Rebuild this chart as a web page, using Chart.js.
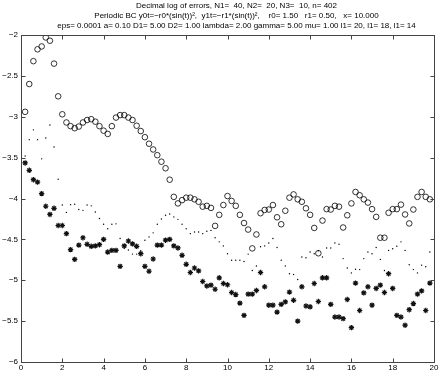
<!DOCTYPE html>
<html>
<head>
<meta charset="utf-8">
<script src="https://cdn.jsdelivr.net/npm/chart.js@4.4.1/dist/chart.umd.min.js"></script>
<style>
  html, body { margin: 0; padding: 0; background: #fff; }
</style>
</head>
<body>
<canvas id="errors" width="443" height="374"></canvas>
<script>
const xs = [
  0.2, 0.4, 0.6, 0.8, 1.0, 1.2, 1.4, 1.6, 1.8, 2.0,
  2.2, 2.4, 2.6, 2.8, 3.0, 3.2, 3.4, 3.6, 3.8, 4.0,
  4.2, 4.4, 4.6, 4.8, 5.0, 5.2, 5.4, 5.6, 5.8, 6.0,
  6.2, 6.4, 6.6, 6.8, 7.0, 7.2, 7.4, 7.6, 7.8, 8.0,
  8.2, 8.4, 8.6, 8.8, 9.0, 9.2, 9.4, 9.6, 9.8, 10.0,
  10.2, 10.4, 10.6, 10.8, 11.0, 11.2, 11.4, 11.6, 11.8, 12.0,
  12.2, 12.4, 12.6, 12.8, 13.0, 13.2, 13.4, 13.6, 13.8, 14.0,
  14.2, 14.4, 14.6, 14.8, 15.0, 15.2, 15.4, 15.6, 15.8, 16.0,
  16.2, 16.4, 16.6, 16.8, 17.0, 17.2, 17.4, 17.6, 17.8, 18.0,
  18.2, 18.4, 18.6, 18.8, 19.0, 19.2, 19.4, 19.6, 19.8
];

// circles
const errCircle = [
  -2.94, -2.60, -2.32, -2.175, -2.14, -2.03, -2.07, -2.35, -2.75, -2.97,
  -3.07, -3.115, -3.14, -3.12, -3.07, -3.04, -3.03, -3.06, -3.115, -3.17,
  -3.21, -3.115, -3.01, -2.98, -2.98, -3.01, -3.04, -3.11, -3.175, -3.25,
  -3.33, -3.40, -3.47, -3.55, -3.63, -3.77, -3.98, -4.06, -4.02, -3.99,
  -3.99, -4.01, -4.04, -4.10, -4.09, -4.115, -4.335, -4.20, -4.08, -3.97,
  -4.03, -4.09, -4.20, -4.30, -4.38, -4.61, -4.44, -4.18, -4.14, -4.135,
  -4.08, -4.23, -4.315, -4.15, -3.99, -3.95, -4.01, -4.04, -4.12, -4.20,
  -4.36, -4.67, -4.27, -4.13, -4.135, -4.09, -4.10, -4.355, -4.205, -4.06,
  -3.92, -3.96, -4.01, -4.05, -4.13, -4.225, -4.48, -4.48, -4.175, -4.13,
  -4.13, -4.075, -4.195, -4.305, -4.135, -3.98, -3.92, -3.98, -4.01
];

// dots
const errDot = [
  -3.48, -3.28, -3.16, -3.28, -3.515, -3.26, -3.10, -3.37, -3.765, -4.08,
  -4.17, -4.075, -4.07, -4.135, -4.145, -4.08, -4.09, -4.165, -4.245, -4.315,
  -4.37, -4.315, -4.31, -4.49, -4.61, -4.63, -4.68, -4.68, -4.64, -4.51,
  -4.47, -4.42, -4.315, -4.25, -4.205, -4.19, -4.225, -4.255, -4.315, -4.37,
  -4.43, -4.41, -4.41, -4.43, -4.40, -4.39, -4.48, -4.53, -4.58, -4.675,
  -4.755, -4.755, -4.755, -4.77, -4.68, -4.88, -4.825, -4.59, -4.58, -4.545,
  -4.49, -4.60, -4.755, -4.825, -4.92, -4.93, -4.99, -4.715, -4.725, -4.655,
  -4.675, -4.64, -4.715, -4.605, -4.605, -4.545, -4.56, -4.735, -4.85, -4.91,
  -4.865, -4.87, -4.735, -4.655, -4.675, -4.60, -4.745, -4.88, -4.635, -4.615,
  -4.585, -4.53, -4.635, -4.81, -4.87, -4.91, -4.815, -4.835, -4.655
];

// asterisks
const errStar = [
  -3.565, -3.655, -3.77, -3.80, -3.94, -4.095, -4.195, -4.12, -4.33, -4.33,
  -4.43, -4.625, -4.745, -4.57, -4.48, -4.56, -4.585, -4.58, -4.565, -4.50,
  -4.655, -4.635, -4.635, -4.83, -4.58, -4.52, -4.555, -4.585, -4.675, -4.83,
  -4.89, -4.74, -4.57, -4.57, -4.51, -4.50, -4.58, -4.605, -4.695, -4.805,
  -4.905, -4.85, -4.885, -5.015, -5.07, -5.06, -5.11, -4.97, -5.04, -5.055,
  -5.15, -5.175, -5.28, -5.43, -5.17, -5.17, -5.125, -4.905, -5.08, -5.305,
  -5.305, -5.39, -5.295, -5.265, -5.145, -5.245, -5.50, -5.08, -5.315, -5.325,
  -5.04, -5.26, -4.97, -4.97, -5.295, -5.45, -5.45, -5.47, -5.235, -5.58,
  -5.035, -5.37, -5.155, -5.08, -5.305, -5.10, -5.06, -5.15, -4.92, -5.10,
  -5.43, -5.45, -5.55, -5.36, -5.285, -5.17, -5.13, -5.37, -5.035
];

const titleLines = [
  "Decimal log of errors, N1=  40, N2=  20, N3=  10, n= 402",
  "Periodic BC y0t=\u2212r0*(sin(t))\u00b2,  y1t=\u2212r1*(sin(t))\u00b2,    r0= 1.50   r1= 0.50,   x= 10.000",
  "eps= 0.0001 a= 0.10 D1= 5.00 D2= 1.00 lambda= 2.00 gamma= 5.00 mu= 1.00 l1= 20, l1= 18, l1= 14"
];

const FONT = "'Liberation Sans', Arial, Helvetica, sans-serif";

const toPoints = (ys) => xs.map((x, i) => ({ x: x, y: ys[i] }));
const minus = (v) => String(v).replace("-", "\u2212");

// matlab style box: frame, inward ticks on all 4 sides, title
const matlabBox = {
  id: "matlabBox",
  afterDraw(chart) {
    const { ctx, chartArea: a, scales } = chart;
    const L = Math.round(a.left) + 0.5, R = Math.round(a.right) + 0.5;
    const T = Math.round(a.top) + 0.5, B = Math.round(a.bottom) + 0.5;
    const len = 4;
    ctx.save();
    ctx.strokeStyle = "#444";
    ctx.lineWidth = 1;
    ctx.strokeRect(L, T, R - L, B - T);
    ctx.beginPath();
    scales.x.ticks.forEach((t) => {
      const px = Math.round(scales.x.getPixelForValue(t.value)) + 0.5;
      ctx.moveTo(px, B); ctx.lineTo(px, B - len);
      ctx.moveTo(px, T); ctx.lineTo(px, T + len);
    });
    scales.y.ticks.forEach((t) => {
      const py = Math.round(scales.y.getPixelForValue(t.value)) + 0.5;
      ctx.moveTo(L, py); ctx.lineTo(L + len, py);
      ctx.moveTo(R, py); ctx.lineTo(R - len, py);
    });
    ctx.stroke();

    ctx.fillStyle = "#000";
    ctx.font = "8px " + FONT;
    ctx.textAlign = "center";
    ctx.textBaseline = "middle";
    const cx = (a.left + a.right) / 2 + 9;
    titleLines.forEach((line, i) => ctx.fillText(line, cx, 6 + i * 9.8));
    ctx.restore();
  }
};

new Chart(document.getElementById("errors"), {
  type: "scatter",
  data: {
    datasets: [
      {
        label: "circles",
        data: toPoints(errCircle),
        pointStyle: "circle",
        pointRadius: 2.8,
        borderWidth: 0.8,
        borderColor: "#000",
        backgroundColor: "rgba(0,0,0,0)",
      },
      {
        label: "dots",
        data: toPoints(errDot),
        pointStyle: "circle",
        pointRadius: 0.7,
        borderWidth: 0,
        borderColor: "#000",
        backgroundColor: "#000",
      },
      {
        label: "stars",
        data: toPoints(errStar),
        pointStyle: "star",
        pointRadius: 2.7,
        borderWidth: 1.2,
        borderColor: "#111",
        backgroundColor: "#111",
      },
    ],
  },
  options: {
    responsive: false,
    animation: false,
    layout: { padding: { top: 35, right: 9, left: 0, bottom: 0 } },
    plugins: {
      legend: { display: false },
      tooltip: { enabled: false },
      title: { display: false },
    },
    scales: {
      x: {
        type: "linear",
        min: 0,
        max: 20,
        ticks: { stepSize: 2, color: "#000", padding: 1, font: { family: FONT, size: 8 } },
        grid: { display: false, drawTicks: false },
        border: { display: false },
        afterFit: (s) => { s.height = 12; },
      },
      y: {
        type: "linear",
        min: -6,
        max: -2,
        ticks: { stepSize: 0.5, color: "#000", padding: 3, font: { family: FONT, size: 8 }, callback: minus },
        grid: { display: false, drawTicks: false },
        border: { display: false },
        afterFit: (s) => { s.width = 21; },
      },
    },
  },
  plugins: [matlabBox],
});
</script>
</body>
</html>
